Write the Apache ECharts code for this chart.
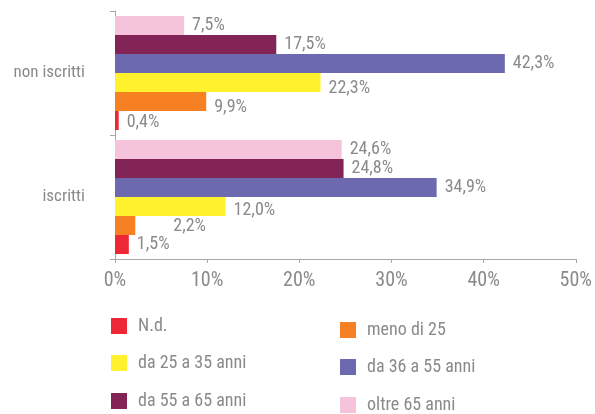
<!DOCTYPE html>
<html>
<head>
<meta charset="utf-8">
<script src="https://cdn.jsdelivr.net/npm/echarts@6/dist/echarts.min.js"></script>
<style>
  html, body { margin: 0; padding: 0; background: #fff; }
  #chart { width: 595px; height: 414px; }
</style>
</head>
<body>
<div id="chart"></div>
<script>
// Categories on the vertical axis (bottom to top)
const categories = ['iscritti', 'non iscritti'];

// Age groups, one series each (legend order)
const seriesNames = ['N.d.', 'meno di 25', 'da 25 a 35 anni', 'da 36 a 55 anni', 'da 55 a 65 anni', 'oltre 65 anni'];

// Percentages per age group: [iscritti, non iscritti]
const valNd      = [1.5, 0.4];
const valMeno25  = [2.2, 9.9];
const val25to35  = [12.0, 22.3];
const val36to55  = [34.9, 42.3];
const val55to65  = [24.8, 17.5];
const valOltre65 = [24.6, 7.5];

const xTicks = [0, 10, 20, 30, 40, 50];

const allValues = [valNd, valMeno25, val25to35, val36to55, val55to65, valOltre65];
const colors = ['#EE2737', '#F68022', '#FFF22D', '#6C69AE', '#822456', '#F6C4DA'];

const FONT = '"Roboto Condensed", "DejaVu Sans Condensed", sans-serif';
const GREY = '#8A8A8A';
const AXIS = '#A8A8A8';

const fmt = v => v.toFixed(1).replace('.', ',') + '%';

// Label nudges [dx, dy] per series, per category
const labelNudge = {
  1: [[30, 1], [0, 6]],
  2: [[0, 4], [0, 6]],
  0: [[0, 0], [0, 2]]
};

// Within each category band ECharts stacks the first series on top,
// so series are added in reverse to keep "N.d." at the bottom.
const series = seriesNames.map((name, i) => ({
  name: name,
  type: 'bar',
  barGap: '0%',
  barCategoryGap: '8%',
  itemStyle: { color: colors[i] },
  data: allValues[i].map((v, j) => {
    const item = { value: v };
    if (labelNudge[i]) item.label = { offset: labelNudge[i][j] };
    return item;
  }),
  label: {
    show: true,
    position: 'right',
    distance: 8,
    color: GREY,
    fontFamily: FONT,
    fontSize: 18,
    formatter: p => fmt(p.value)
  }
})).reverse();

// Legend: two columns, one legend block per entry
const legendSpots = [
  ['N.d.', 111, 317], ['meno di 25', 340, 321],
  ['da 25 a 35 anni', 111, 354], ['da 36 a 55 anni', 340, 358],
  ['da 55 a 65 anni', 111, 392], ['oltre 65 anni', 340, 396]
];
const legends = legendSpots.map(([name, x, y]) => ({
  data: [name],
  left: x, top: y,
  padding: 0,
  itemWidth: 16, itemHeight: 16,
  itemGap: 0,
  icon: 'rect',
  textStyle: { color: GREY, fontFamily: FONT, fontSize: 18, padding: [0, 0, 0, 6] }
}));

const chart = echarts.init(document.getElementById('chart'), null, { renderer: 'canvas' });
chart.setOption({
  animation: false,
  backgroundColor: '#fff',
  grid: { left: 115, right: 15, top: 11, bottom: 155, containLabel: false },
  xAxis: {
    type: 'value',
    min: xTicks[0],
    max: xTicks[xTicks.length - 1],
    interval: 10,
    axisLine: { show: true, lineStyle: { color: AXIS, width: 1 } },
    axisTick: { show: true, length: 4, lineStyle: { color: AXIS } },
    splitLine: { show: false },
    axisLabel: { color: GREY, fontFamily: FONT, fontSize: 20, margin: 12, formatter: v => v + '%' }
  },
  yAxis: {
    type: 'category',
    data: categories,
    axisLine: { show: true, lineStyle: { color: AXIS, width: 1 } },
    axisTick: { show: true, length: 5, lineStyle: { color: AXIS } },
    axisLabel: { color: GREY, fontFamily: FONT, fontSize: 17, margin: 30 }
  },
  legend: legends,
  series: series
});
</script>
</body>
</html>
